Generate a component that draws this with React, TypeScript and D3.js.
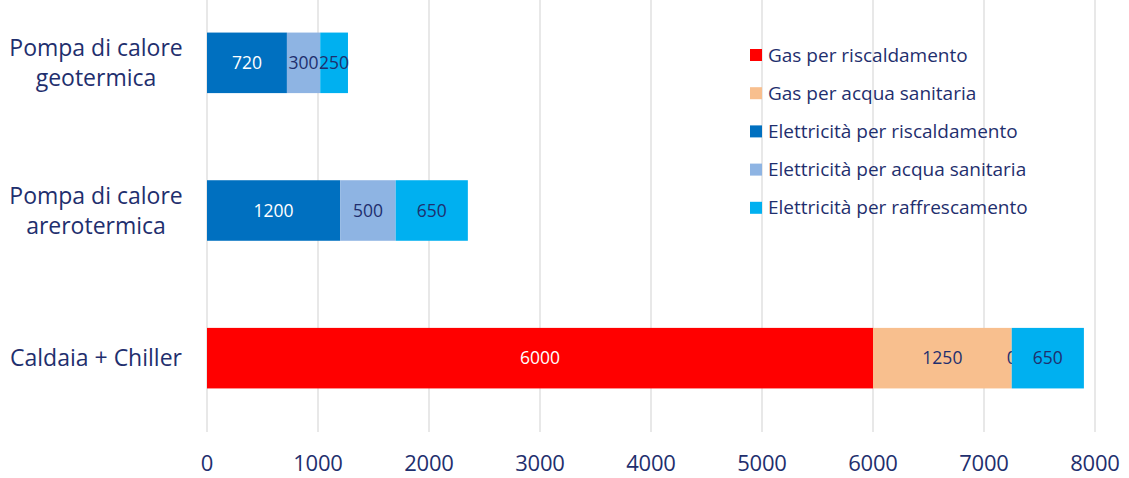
import React from "react";
import * as d3 from "d3";

const categories = ["Pompa di calore geotermica", "Pompa di calore arerotermica", "Caldaia + Chiller"];
const categoryLines = [["Pompa di calore", "geotermica"], ["Pompa di calore", "arerotermica"], ["Caldaia + Chiller"]];
const seriesNames = [
  "Gas per riscaldamento",
  "Gas per acqua sanitaria",
  "Elettricità per riscaldamento",
  "Elettricità per acqua sanitaria",
  "Elettricità per raffrescamento",
];
const gasRiscaldamento: (number | null)[] = [null, null, 6000];
const gasAcquaSanitaria: (number | null)[] = [null, null, 1250];
const elettricitaRiscaldamento: (number | null)[] = [720, 1200, null];
const elettricitaAcquaSanitaria: (number | null)[] = [300, 500, 0];
const elettricitaRaffrescamento: (number | null)[] = [250, 650, 650];
const xTicks = [0, 1000, 2000, 3000, 4000, 5000, 6000, 7000, 8000];

const seriesValues = [gasRiscaldamento, gasAcquaSanitaria, elettricitaRiscaldamento, elettricitaAcquaSanitaria, elettricitaRaffrescamento];
const colors = ["#FF0000", "#F8BF8E", "#0070C0", "#8EB4E3", "#00B0F0"];
const labelColors = ["#FFFFFF", "#1F2F6E", "#FFFFFF", "#1F2F6E", "#1F2F6E"];

const W = 1129;
const H = 478;
const FONT = "'Open Sans', 'Noto Sans', sans-serif";
const NAVY = "#1F2F6E";

export default function App() {
  const x = d3.scaleLinear().domain([0, 8000]).range([207, 1095]);
  const y = d3.scaleBand<string>().domain(categories).range([-11, 432]).paddingInner(0.59).paddingOuter(0.295);

  const table = categories.map((c, i) => {
    const row: Record<string, any> = { cat: c };
    seriesNames.forEach((s, j) => (row[s] = seriesValues[j][i] ?? 0));
    return row;
  });
  const stacked = d3.stack<any>().keys(seriesNames)(table);

  return (
    <svg width={W} height={H} style={{ position: "absolute", left: 0, top: 0, background: "#fff" }} fontFamily={FONT}>
      <rect x={0} y={0} width={W} height={H} fill="#fff" />
      {xTicks.map((t) => (
        <line key={t} x1={x(t)} x2={x(t)} y1={0} y2={432} stroke="#D9D9D9" strokeWidth={1.2} />
      ))}
      {xTicks.map((t) => (
        <text key={"l" + t} x={x(t)} y={471} textAnchor="middle" fontSize={22} fill={NAVY} letterSpacing={-0.2}>
          {t}
        </text>
      ))}
      {categories.map((c, i) => {
        const cy = (y(c) as number) + y.bandwidth() / 2;
        const lines = categoryLines[i];
        const lh = 30;
        const start = cy - ((lines.length - 1) * lh) / 2;
        return (
          <text key={c} textAnchor="middle" fontSize={23} fill={NAVY}>
            {lines.map((ln, k) => (
              <tspan key={k} x={96} y={start + k * lh} dy="0.35em">
                {ln}
              </tspan>
            ))}
          </text>
        );
      })}
      {stacked.map((layer, j) => (
        <g key={layer.key}>
          {layer.map((d, i) => {
            const v = seriesValues[j][i];
            if (v === null) return null;
            const c = categories[i];
            return (
              <rect key={c} x={x(d[0])} y={y(c)} width={x(d[1]) - x(d[0])} height={y.bandwidth()} fill={colors[j]} />
            );
          })}
          {layer.map((d, i) => {
            const v = seriesValues[j][i];
            if (v === null) return null;
            const c = categories[i];
            return (
              <text
                key={"t" + c}
                x={(x(d[0]) + x(d[1])) / 2}
                y={(y(c) as number) + y.bandwidth() / 2}
                dy="0.35em"
                textAnchor="middle"
                fontSize={17.5}
                fill={labelColors[j]}
              >
                {v}
              </text>
            );
          })}
        </g>
      ))}
      <g>
        {seriesNames.map((s, j) => (
          <g key={s} transform={`translate(750, ${55 + j * 38.2})`}>
            <rect x={0} y={-6} width={12} height={12} fill={colors[j]} />
            <text x={18} y={0} dy="0.35em" fontSize={19} fill={NAVY}>
              {s}
            </text>
          </g>
        ))}
      </g>
    </svg>
  );
}
